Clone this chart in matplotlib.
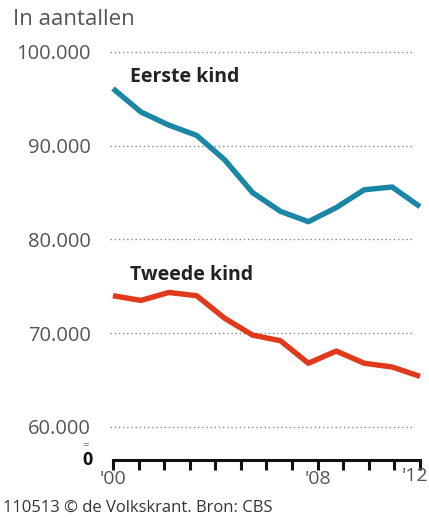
import numpy as np
import matplotlib
matplotlib.use("Agg")
import matplotlib.pyplot as plt
from matplotlib.transforms import offset_copy

# Births per year
years = [2000, 2001, 2002, 2003, 2004, 2005, 2006, 2007, 2008, 2009, 2010, 2011]
eerste_kind = [96100, 93600, 92200, 91100, 88500, 85000, 83000, 81900, 83400, 85300, 85600, 83500]
tweede_kind = [74000, 73500, 74350, 74000, 71600, 69800, 69200, 66800, 68100, 66800, 66400, 65400]

y_ticks = [60000, 70000, 80000, 90000, 100000]
y_labels = ["60.000", "70.000", "80.000", "90.000", "100.000"]
x_labels = ["'00", "", "", "", "", "", "", "", "'08", "", "", "", ""]

plt.rcParams['font.family'] = ['Open Sans', 'DejaVu Sans']

fig = plt.figure(figsize=(4.29, 5.22), dpi=100)
ax = fig.add_axes([0.2634, 0.1188, 0.979 - 0.2634, 0.9234 - 0.1188])

y_bottom = 56480
ax.set_ylim(y_bottom, 101280)
ax.set_xlim(years[0], years[-1])

# dotted gridlines
for v in y_ticks:
    ax.plot([years[0] - 0.1, years[-1] - 0.3], [v, v], linestyle=(0, (1, 2)),
            color='#888888', linewidth=1.0, zorder=1, clip_on=False)

ax.plot(years, eerste_kind, color='#1b87a6', linewidth=3.9, solid_capstyle='butt',
        solid_joinstyle='round', zorder=3, clip_on=False)
ax.plot(years, tweede_kind, color='#e0391c', linewidth=3.9, solid_capstyle='butt',
        solid_joinstyle='round', zorder=3, clip_on=False)

ax.text(2000.6, 97300, "Eerste kind", fontsize=14, fontweight='bold', color='#222222',
        ha='left', va='center')
ax.text(2000.6, 76200, "Tweede kind", fontsize=14, fontweight='bold', color='#222222',
        ha='left', va='center')

# axes styling
for s in ['left', 'right', 'top']:
    ax.spines[s].set_visible(False)
ax.spines['bottom'].set_linewidth(2.2)
ax.spines['bottom'].set_color('#111111')

ax.set_yticks(y_ticks)
ax.set_yticklabels(y_labels)
ax.tick_params(axis='y', length=0, pad=16, labelsize=14.5, labelcolor='#555555')

ax.set_xticks(np.linspace(years[0], years[-1], 13))
ax.set_xticklabels(x_labels)
ax.tick_params(axis='x', direction='out', length=7, width=2.2, color='#111111',
               pad=0, labelsize=14, labelcolor='#555555')

# last year label sits against the right edge
ax.text(1.0, 0, "'12", fontsize=14, color='#555555', ha='right', va='top',
        transform=offset_copy(ax.transAxes, fig=fig, x=8, y=-7, units='dots'),
        clip_on=False)

# axis break and zero label
ax.text(-0.065, y_bottom, "0", transform=ax.get_yaxis_transform(), fontsize=13,
        fontweight='bold', color='#111111', ha='right', va='center')
ax.text(-0.08, 58150, "=", transform=ax.get_yaxis_transform(), fontsize=8,
        color='#777777', ha='right', va='center_baseline')

fig.text(0.03, 0.962, "In aantallen", fontsize=16, color='#555555', ha='left', va='center')
fig.text(0.007, 0.027, "110513 © de Volkskrant. Bron: CBS", fontsize=12, color='#333333',
         ha='left', va='center')

fig.savefig("out.png", dpi=100)
